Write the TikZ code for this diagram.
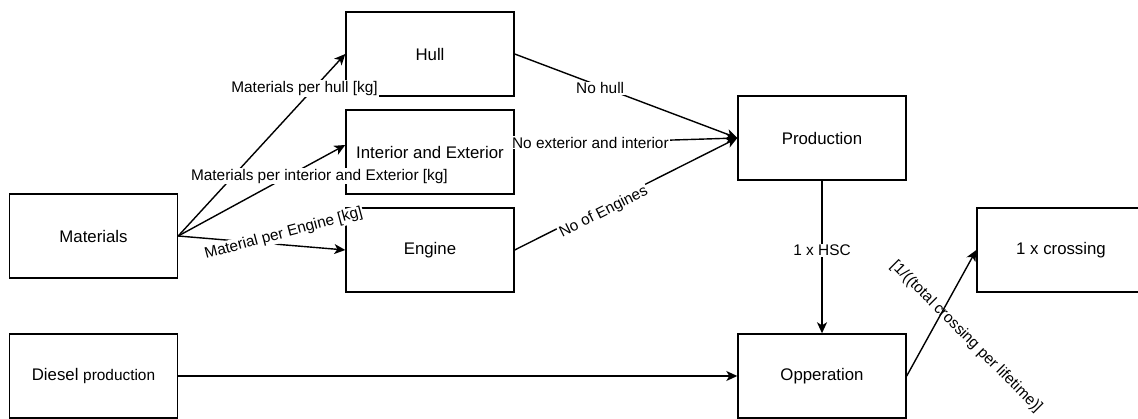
\documentclass[tikz,border=0pt]{standalone}
\usepackage{fontspec}
\setmainfont{Liberation Sans}
\usetikzlibrary{arrows.meta}

\tikzset{
  box/.style={draw, line width=1.4pt, minimum width=168pt, minimum height=84pt,
    inner sep=0pt, font=\fontsize{16.8}{19}\selectfont},
  flow/.style={line width=1.4pt, -{Stealth[length=11pt,width=10pt,inset=3pt]}},
  lbl/.style={fill=white, inner sep=1pt, font=\fontsize{15.4}{17}\selectfont}
}

\begin{document}
\begin{tikzpicture}[x=1pt, y=-1pt]
\useasboundingbox (0,0) rectangle (1138,419);

% process boxes
\node[box] (mat)  at (93.5,236) {Materials};
\node[box] (dsl)  at (93.5,376) {Diesel {\fontsize{15.4}{17}\selectfont production}};
\node[box] (hull) at (430,54)   {Hull};
\node[box] (ie)   at (430,152)  {Interior and Exterior};
\node[box] (eng)  at (430,250)  {Engine};
\node[box] (prod) at (822,138)  {Production};
\node[box] (opp)  at (822,376)  {Opperation};
\node[box] (crs)  at (1061,250) {1 x crossing};

% material flows into the components
\draw[flow] (mat.east) -- (hull.west)
  node[lbl, pos=0.756, yshift=10pt] (l1) {Materials per hull [kg]};
\draw[flow] (mat.east) -- ([yshift=7pt]ie.west)
  node[lbl, pos=0.845, yshift=-17pt] (l2) {Materials per interior and Exterior [kg]};
\draw[flow] (mat.east) -- (eng.west)
  node[lbl, pos=0.631, yshift=11pt, rotate=15] (l3) {Material per Engine [kg]};

% components into production
\draw[flow] (hull.east) -- (prod.west)
  node[lbl, pos=0.384, yshift=-2pt] (l4) {No hull};
\draw[flow] ([yshift=7pt]ie.east) -- (prod.west)
  node[lbl, pos=0.34] (l5) {No exterior and interior};
\draw[flow] (eng.east) -- (prod.west)
  node[lbl, pos=0.4, yshift=-7pt, rotate=26.6] (l6) {No of Engines};

% production and fuel into operation
\draw[flow] (prod.south) -- (opp.north)
  node[lbl, pos=0.455] (l7) {1 x HSC};
\draw[flow] (dsl.east) -- (opp.west);

% operation per crossing
\draw[flow] (opp.east) -- (crs.west)
  node[pos=0.31, xshift=38pt, rotate=-45, inner sep=1pt,
       font=\fontsize{15.4}{17}\selectfont] (l8) {[1/((total crossing per lifetime)]};
\end{tikzpicture}
\end{document}
